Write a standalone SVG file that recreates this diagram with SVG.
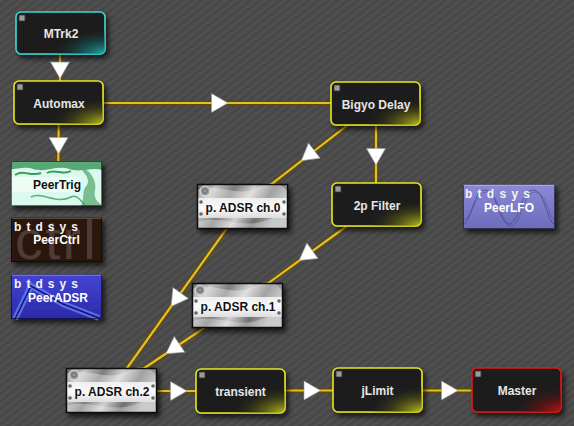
<svg xmlns="http://www.w3.org/2000/svg" width="574" height="426" viewBox="0 0 574 426">
<style>
text{font-family:"Liberation Sans",Arial,sans-serif;font-weight:bold;font-size:12px;text-anchor:middle}
.lbl{fill:#e6e6e6}
.dk{fill:#111}
.wt{fill:#fff}
.bt{fill:#f4f4f4;font-size:12px;text-anchor:start}
.box{fill:#1f1f1f;stroke-width:1.6}
.y{stroke:#e8e620}
.c{stroke:#3ad8d8}
.r{stroke:#e41818}
.led{fill:#9c9c9c;stroke:#333;stroke-width:0.8}
.wb{stroke:#5e4a0c;stroke-width:4.6;fill:none}
.wg{stroke:#e6bf24;stroke-width:2.2;fill:none}
.arr{fill:#fff;stroke:#999;stroke-width:0.6}
.bev{fill:none;stroke:#000;stroke-opacity:.55;stroke-width:1}
</style>
<defs>
<pattern id="tex" width="6" height="6" patternUnits="userSpaceOnUse" patternTransform="rotate(-38)">
<rect width="6" height="6" fill="#4a4a4a"/>
<line x1="0" y1="1.5" x2="6" y2="1.5" stroke="#535353" stroke-width="1.2"/>
<line x1="0" y1="4.5" x2="6" y2="4.5" stroke="#444" stroke-width="0.8"/>
</pattern>
<radialGradient id="gY" cx="1" cy="1" r="0.6" fx="1" fy="1"><stop offset="0" stop-color="#c8c820" stop-opacity=".95"/><stop offset="0.5" stop-color="#6e6e14" stop-opacity=".55"/><stop offset="1" stop-color="#222" stop-opacity="0"/></radialGradient>
<radialGradient id="gC" cx="1" cy="1" r="0.6" fx="1" fy="1"><stop offset="0" stop-color="#20b4b4" stop-opacity=".95"/><stop offset="0.5" stop-color="#146a6a" stop-opacity=".55"/><stop offset="1" stop-color="#222" stop-opacity="0"/></radialGradient>
<radialGradient id="gR" cx="1" cy="1" r="0.6" fx="1" fy="1"><stop offset="0" stop-color="#c41414" stop-opacity=".95"/><stop offset="0.5" stop-color="#701010" stop-opacity=".55"/><stop offset="1" stop-color="#222" stop-opacity="0"/></radialGradient>
<linearGradient id="metal" x1="0" y1="0" x2="1" y2="0.3"><stop offset="0" stop-color="#5e5e5e"/><stop offset=".2" stop-color="#c4c4c4"/><stop offset=".4" stop-color="#7e7e7e"/><stop offset=".6" stop-color="#d0d0d0"/><stop offset=".8" stop-color="#707070"/><stop offset="1" stop-color="#b4b4b4"/></linearGradient>
<linearGradient id="band" x1="0" y1="0" x2="0" y2="1"><stop offset="0" stop-color="#f2f2f2"/><stop offset=".5" stop-color="#ffffff"/><stop offset="1" stop-color="#e0e0e0"/></linearGradient>
<linearGradient id="blue" x1="0" y1="0" x2="0" y2="1"><stop offset="0" stop-color="#4444d4"/><stop offset="1" stop-color="#2a2aa8"/></linearGradient>
<linearGradient id="lav" x1="0" y1="0" x2="0" y2="1"><stop offset="0" stop-color="#8a8ad6"/><stop offset="1" stop-color="#6c6cbc"/></linearGradient>
<filter id="sh" x="-20%" y="-20%" width="150%" height="160%"><feDropShadow dx="3" dy="4" stdDeviation="2.5" flood-color="#000" flood-opacity=".65"/></filter>
<polygon id="ah" points="11,0 -5.5,9.5 -5.5,-9.5"/>
<g id="metalbox">
<rect width="91" height="45" fill="url(#metal)"/>
<path d="M0 6 C20 -2 40 14 60 4 S85 2 91 8 V14 H0Z" fill="#ffffff" opacity=".35"/>
<path d="M0 38 C25 30 45 46 70 36 S88 40 91 38 V45 H0Z" fill="#ffffff" opacity=".3"/>
<rect x="1" y="14" width="89" height="20" fill="url(#band)" opacity=".95"/>
<circle cx="8" cy="7" r="5" fill="#9a9a9a" stroke="#e8e8e8" stroke-width="1"/>
<circle cx="8" cy="7" r="2.2" fill="none" stroke="#555" stroke-width="0.8"/>
<circle cx="4" cy="18" r="1.8" fill="#666"/><circle cx="4" cy="30" r="1.8" fill="#666"/>
<circle cx="87" cy="18" r="1.8" fill="#666"/><circle cx="87" cy="30" r="1.8" fill="#666"/>
<rect x="0.5" y="0.5" width="90" height="44" fill="none" stroke="#111" stroke-width="1.5"/>
</g>
</defs>

<rect width="574" height="426" fill="url(#tex)"/>

<g id="connectors">
<g class="wb">
<line x1="60" y1="33" x2="60" y2="102"/>
<line x1="59" y1="102" x2="58" y2="183"/>
<line x1="59" y1="103" x2="375.5" y2="103"/>
<line x1="376" y1="103.5" x2="376" y2="204.5"/>
<line x1="375.5" y1="103.5" x2="242.5" y2="206.5"/>
<line x1="376.5" y1="204.5" x2="237.5" y2="305.5"/>
<line x1="242.5" y1="206.5" x2="111" y2="390.5"/>
<line x1="237.5" y1="305.5" x2="111" y2="390.5"/>
<line x1="111" y1="391" x2="241" y2="391"/>
<line x1="241" y1="390.5" x2="377.5" y2="390.5"/>
<line x1="377.5" y1="390.5" x2="516.5" y2="390.5"/>
</g>
<g class="wg">
<line x1="60" y1="33" x2="60" y2="102"/>
<line x1="59" y1="102" x2="58" y2="183"/>
<line x1="59" y1="103" x2="375.5" y2="103"/>
<line x1="376" y1="103.5" x2="376" y2="204.5"/>
<line x1="375.5" y1="103.5" x2="242.5" y2="206.5"/>
<line x1="376.5" y1="204.5" x2="237.5" y2="305.5"/>
<line x1="242.5" y1="206.5" x2="111" y2="390.5"/>
<line x1="237.5" y1="305.5" x2="111" y2="390.5"/>
<line x1="111" y1="391" x2="241" y2="391"/>
<line x1="241" y1="390.5" x2="377.5" y2="390.5"/>
<line x1="377.5" y1="390.5" x2="516.5" y2="390.5"/>
</g>
<g class="arr">
<use href="#ah" transform="translate(60,67.5) rotate(90)"/>
<use href="#ah" transform="translate(58.5,143) rotate(90)"/>
<use href="#ah" transform="translate(217,103)"/>
<use href="#ah" transform="translate(376,154) rotate(90)"/>
<use href="#ah" transform="translate(310,154) rotate(142.2)"/>
<use href="#ah" transform="translate(308,254) rotate(144)"/>
<use href="#ah" transform="translate(177.5,297.5) rotate(125.6)"/>
<use href="#ah" transform="translate(175,347.5) rotate(146.1)"/>
<use href="#ah" transform="translate(176,391)"/>
<use href="#ah" transform="translate(309.5,390.5)"/>
<use href="#ah" transform="translate(447,390.5)"/>
</g>
</g>

<g id="mtrk2" transform="translate(16,12)">
<rect class="box c" width="89" height="42" rx="5" filter="url(#sh)"/>
<rect width="89" height="42" rx="5" fill="url(#gC)"/>
<rect class="led" x="3" y="3" width="6" height="6"/>
<text class="lbl" x="45" y="26">MTrk2</text>
</g>

<g id="automax" transform="translate(14,81)">
<rect class="box y" width="89" height="43" rx="5" filter="url(#sh)"/>
<rect width="89" height="43" rx="5" fill="url(#gY)"/>
<rect class="led" x="3" y="3" width="6" height="6"/>
<text class="lbl" x="45" y="27">Automax</text>
</g>

<g id="bigyo" transform="translate(331,82)">
<rect class="box y" width="89" height="43" rx="5" filter="url(#sh)"/>
<rect width="89" height="43" rx="5" fill="url(#gY)"/>
<rect class="led" x="3" y="3" width="6" height="6"/>
<text class="lbl" x="45" y="26.5">Bigyo Delay</text>
</g>

<g id="filter2p" transform="translate(332,183)">
<rect class="box y" width="89" height="43" rx="5" filter="url(#sh)"/>
<rect width="89" height="43" rx="5" fill="url(#gY)"/>
<rect class="led" x="3" y="3" width="6" height="6"/>
<text class="lbl" x="45" y="27">2p Filter</text>
</g>

<g id="transient" transform="translate(196,369)">
<rect class="box y" width="89" height="44" rx="5" filter="url(#sh)"/>
<rect width="89" height="44" rx="5" fill="url(#gY)"/>
<rect class="led" x="3" y="3" width="6" height="6"/>
<text class="lbl" x="44.5" y="27">transient</text>
</g>

<g id="jlimit" transform="translate(333,368)">
<rect class="box y" width="89" height="44" rx="5" filter="url(#sh)"/>
<rect width="89" height="44" rx="5" fill="url(#gY)"/>
<rect class="led" x="3" y="3" width="6" height="6"/>
<text class="lbl" x="44.5" y="27">jLimit</text>
</g>

<g id="master" transform="translate(472,368)">
<rect class="box r" width="89" height="44" rx="5" filter="url(#sh)"/>
<rect width="89" height="44" rx="5" fill="url(#gR)"/>
<rect class="led" x="3" y="3" width="6" height="6"/>
<text class="lbl" x="45" y="27">Master</text>
</g>

<g id="adsr0" transform="translate(197,184)">
<use href="#metalbox" filter="url(#sh)"/>
<text class="dk" x="46" y="27.5">p. ADSR ch.0</text>
</g>

<g id="adsr1" transform="translate(192,283)">
<use href="#metalbox" filter="url(#sh)"/>
<text class="dk" x="46" y="27.5">p. ADSR ch.1</text>
</g>

<g id="adsr2" transform="translate(66,368)">
<use href="#metalbox" filter="url(#sh)"/>
<text class="dk" x="46" y="27.5">p. ADSR ch.2</text>
</g>

<g id="peertrig" transform="translate(11,161)">
<rect width="91" height="45" fill="#dcf9ee" filter="url(#sh)"/>
<path d="M0 0 H91 V9 C80 6 70 12 58 8 C45 4 35 12 22 8 C12 5 5 9 0 8Z" fill="#3f9a5c" opacity=".85"/>
<path d="M4 14 C12 8 20 16 30 12 M36 12 C44 7 52 15 60 10" stroke="#3f9a5c" stroke-width="2" fill="none"/>
<path d="M66 4 C80 8 86 20 84 30 C82 38 88 42 91 44 V45 H70 C74 38 70 30 76 24 C80 18 72 10 66 4Z" fill="#58a870" opacity=".75"/>
<path d="M20 36 C30 30 45 44 60 36 C66 33 70 40 74 44" stroke="#3f9a5c" stroke-width="1.5" fill="none" opacity=".8"/>
<rect x="0" y="16" width="70" height="15" fill="#f4fffa" opacity=".7"/>
<rect class="bev" x="0.5" y="0.5" width="90" height="44"/>
<text class="dk" x="46" y="27.5">PeerTrig</text>
</g>

<g id="peerctrl" transform="translate(11,217)">
<rect width="91" height="45" fill="#2a140e" filter="url(#sh)"/>
<svg width="91" height="45" viewBox="0 0 91 45"><text x="4" y="42" style="font-size:56px;font-weight:normal;fill:#4f3b35;text-anchor:start;letter-spacing:2px">ctrl</text></svg>
<rect x="0" y="0" width="91" height="1.5" fill="#8a7a75"/>
<rect class="bev" x="0.5" y="0.5" width="90" height="44"/>
<text class="bt" x="3" y="13.5" textLength="64" lengthAdjust="spacing">b t d s y s</text>
<text class="wt" x="45.5" y="26.5">PeerCtrl</text>
</g>

<g id="peeradsr" transform="translate(11,274)">
<rect width="91" height="45" fill="url(#blue)" filter="url(#sh)"/>
<polyline points="4,45 20,12 52,30 88,44" fill="none" stroke="#6e88ff" stroke-width="6" opacity=".7"/>
<polyline points="4,45 20,12 52,30 88,44" fill="none" stroke="#14146a" stroke-width="1.5"/>
<rect x="0" y="0" width="91" height="1.5" fill="#9a9aff"/>
<rect class="bev" x="0.5" y="0.5" width="90" height="44"/>
<text class="bt" x="3" y="13.5" textLength="64" lengthAdjust="spacing">b t d s y s</text>
<text class="wt" x="47" y="27.5">PeerADSR</text>
</g>

<g id="peerlfo" transform="translate(463,184)">
<rect width="92" height="45" fill="url(#lav)" filter="url(#sh)"/>
<path d="M0 40 C8 40 10 6 22 6 C34 6 36 40 46 40 C56 40 58 6 70 6 C82 6 84 40 92 40" fill="none" stroke="#45457a" stroke-width="1" opacity=".7"/>
<path d="M0 36 C9 36 12 8 24 8 C36 8 38 42 48 42 C58 42 60 8 72 8 C84 8 86 36 92 36" fill="none" stroke="#45457a" stroke-width="1" opacity=".5"/>
<rect x="0" y="0" width="92" height="1.5" fill="#c4c4ff"/>
<rect class="bev" x="0.5" y="0.5" width="91" height="44"/>
<text class="bt" x="2" y="13.5" textLength="65" lengthAdjust="spacing">b t d s y s</text>
<text class="wt" x="46" y="27.5">PeerLFO</text>
</g>
</svg>
